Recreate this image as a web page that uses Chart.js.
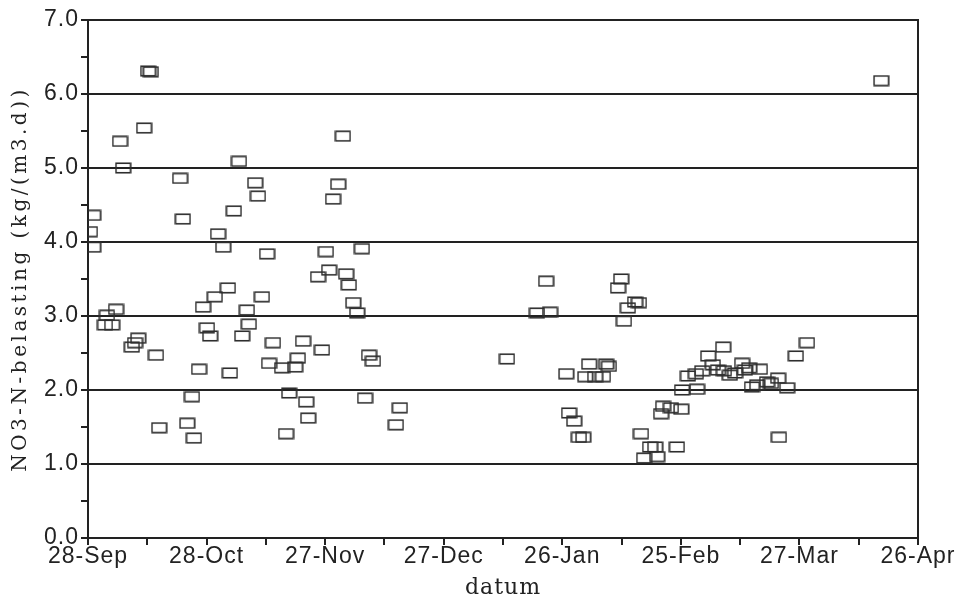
<!DOCTYPE html>
<html>
<head>
<meta charset="utf-8">
<script src="https://cdn.jsdelivr.net/npm/chart.js@4/dist/chart.umd.min.js"></script>
<style>
    body { margin: 0; background: #fff; }
    #wrap { width: 964px; height: 606px; }
</style>
</head>
<body>
<div id="wrap"><canvas id="scatterNO3"></canvas></div>
<script>
// days since 28-Sep, and measured load
const days = [0.5, 1.3, 1.3, 4.3, 6.1, 4.8, 7.1, 8.1, 8.9, 11.1, 11.9, 12.7, 14.2, 15.2, 15.9, 17.2, 18.0,
    23.3, 24.0, 25.1, 26.3, 26.8, 28.1, 29.1, 30.1, 30.9, 32.1, 32.9, 34.2, 35.4, 35.9, 36.9, 38.2,
    39.0, 40.2, 40.7, 42.3, 43.0, 44.0, 45.3, 45.8, 46.8, 49.1, 50.1, 50.9, 52.4, 53.1, 54.4, 55.2, 55.7,
    59.2, 58.2, 60.2, 61.0, 62.0, 63.3, 64.5, 65.3, 66.0, 67.1, 68.1, 69.3, 70.1, 71.1, 72.1, 77.9, 78.9,
    106.0, 113.6, 116.9, 115.9, 121.0, 121.7, 123.0, 124.2, 125.3, 125.8, 126.8, 128.3, 130.3, 131.1, 131.8,
    134.1, 134.9, 135.6, 136.6, 138.4, 139.4, 139.9, 140.7, 142.2, 143.5, 144.0, 145.0, 145.5, 147.5, 149.0,
    150.1, 150.3, 154.1, 151.8, 153.8, 155.4, 156.9, 158.1, 159.4, 160.7, 160.9, 162.4, 163.7, 165.5, 166.2,
    167.3, 168.0, 169.3, 170.0, 171.8, 172.8, 174.6, 174.8, 176.9, 179.1, 181.9, 200.7];
const load = [4.14, 4.36, 3.93, 2.88, 2.88, 3.01, 3.09, 5.36, 5.00, 2.58, 2.64, 2.70, 5.54, 6.31, 6.30, 2.47, 1.49,
    4.86, 4.31, 1.55, 1.91, 1.35, 2.28, 3.12, 2.84, 2.73, 3.26, 4.11, 3.93, 3.38, 2.23, 4.42, 5.09,
    2.73, 3.08, 2.89, 4.80, 4.62, 3.26, 3.84, 2.36, 2.64, 2.30, 1.41, 1.96, 2.31, 2.43, 2.66, 1.84, 1.62,
    2.54, 3.53, 3.87, 3.62, 4.58, 4.78, 5.43, 3.57, 3.42, 3.18, 3.04, 3.91, 1.89, 2.47, 2.39, 1.53, 1.76,
    2.42, 3.04, 3.05, 3.47, 2.22, 1.69, 1.58, 1.36, 1.36, 2.18, 2.35, 2.18, 2.18, 2.35, 2.32,
    3.38, 3.50, 2.93, 3.11, 3.19, 3.18, 1.41, 1.08, 1.23, 1.23, 1.10, 1.68, 1.78, 1.76, 1.23,
    1.74, 2.00, 2.01, 2.19, 2.22, 2.26, 2.46, 2.34, 2.27, 2.58, 2.26, 2.20, 2.23, 2.36, 2.27,
    2.30, 2.04, 2.07, 2.28, 2.11, 2.09, 2.16, 1.36, 2.03, 2.46, 2.64, 6.18];
const dateLabels = ['28-Sep', '28-Oct', '27-Nov', '27-Dec', '26-Jan', '25-Feb', '27-Mar', '26-Apr'];
const yTitle = 'NO3-N-belasting (kg/(m3.d))';
const xTitle = 'datum';

const ink = '#222';

// open rectangle marker, wider than tall
function boxMarker() {
    const c = document.createElement('canvas');
    c.width = 17;
    c.height = 12;
    const g = c.getContext('2d');
    g.strokeStyle = '#2e2e2e';
    g.lineWidth = 1.6;
    g.strokeRect(1.25, 1.25, 14.5, 9.5);
    return c;
}

const framePlugin = {
    id: 'frame',
    beforeDraw(chart) {
        chart.ctx.letterSpacing = '1px';
    },
    afterDraw(chart) {
        const { ctx, chartArea: a } = chart;
        ctx.save();
        ctx.letterSpacing = '0px';
        ctx.strokeStyle = ink;
        ctx.lineWidth = 2;
        ctx.beginPath();
        ctx.moveTo(a.left, a.top);
        ctx.lineTo(a.right, a.top);
        ctx.lineTo(a.right, a.bottom + 7);
        ctx.stroke();

        ctx.fillStyle = ink;
        ctx.textAlign = 'center';
        ctx.textBaseline = 'middle';

        ctx.letterSpacing = '1px';
        ctx.font = '22px "DejaVu Serif"';
        ctx.fillText(xTitle, (a.left + a.right) / 2, 588);

        ctx.letterSpacing = '3.5px';
        ctx.font = '20px "DejaVu Serif"';
        ctx.translate(21, (a.top + a.bottom) / 2);
        ctx.rotate(-Math.PI / 2);
        ctx.fillText(yTitle, 0, 0);
        ctx.restore();
    }
};

const ctx = document.getElementById('scatterNO3').getContext('2d');

new Chart(ctx, {
    type: 'scatter',
    data: {
        datasets: [{
            label: 'NO3-N-belasting',
            data: days.map((d, i) => ({ x: d, y: load[i] })),
            pointStyle: boxMarker(),
            pointRadius: 7,
            pointHoverRadius: 7
        }]
    },
    options: {
        responsive: true,
        maintainAspectRatio: false,
        animation: false,
        layout: { padding: { left: 0, top: 20, right: 46, bottom: 0 } },
        plugins: {
            legend: { display: false },
            tooltip: { enabled: false }
        },
        scales: {
            x: {
                type: 'linear',
                min: 0,
                max: 210,
                afterFit(scale) { scale.height = 68; },
                grid: {
                    drawOnChartArea: false,
                    drawTicks: true,
                    tickLength: 7,
                    color: ink,
                    lineWidth: 2
                },
                border: { color: ink, width: 2 },
                ticks: {
                    stepSize: 15,
                    autoSkip: false,
                    maxRotation: 0,
                    padding: -2,
                    color: ink,
                    font: { family: '"Liberation Sans", Arial, sans-serif', size: 23 },
                    callback: (v) => (v % 30 === 0 ? dateLabels[v / 30] : '')
                }
            },
            y: {
                min: 0,
                max: 7,
                afterFit(scale) { scale.width = 88; },
                grid: {
                    tickLength: 7,
                    color: (c) => (c.tick && c.tick.value % 1 === 0 ? ink : 'rgba(0,0,0,0)'),
                    tickColor: ink,
                    lineWidth: 2
                },
                border: { color: ink, width: 2 },
                ticks: {
                    stepSize: 0.5,
                    padding: 2,
                    color: ink,
                    font: { family: '"Liberation Sans", Arial, sans-serif', size: 23 },
                    callback: (v) => (v % 1 === 0 ? v.toFixed(1) : '')
                }
            }
        }
    },
    plugins: [framePlugin]
});
</script>
</body>
</html>
